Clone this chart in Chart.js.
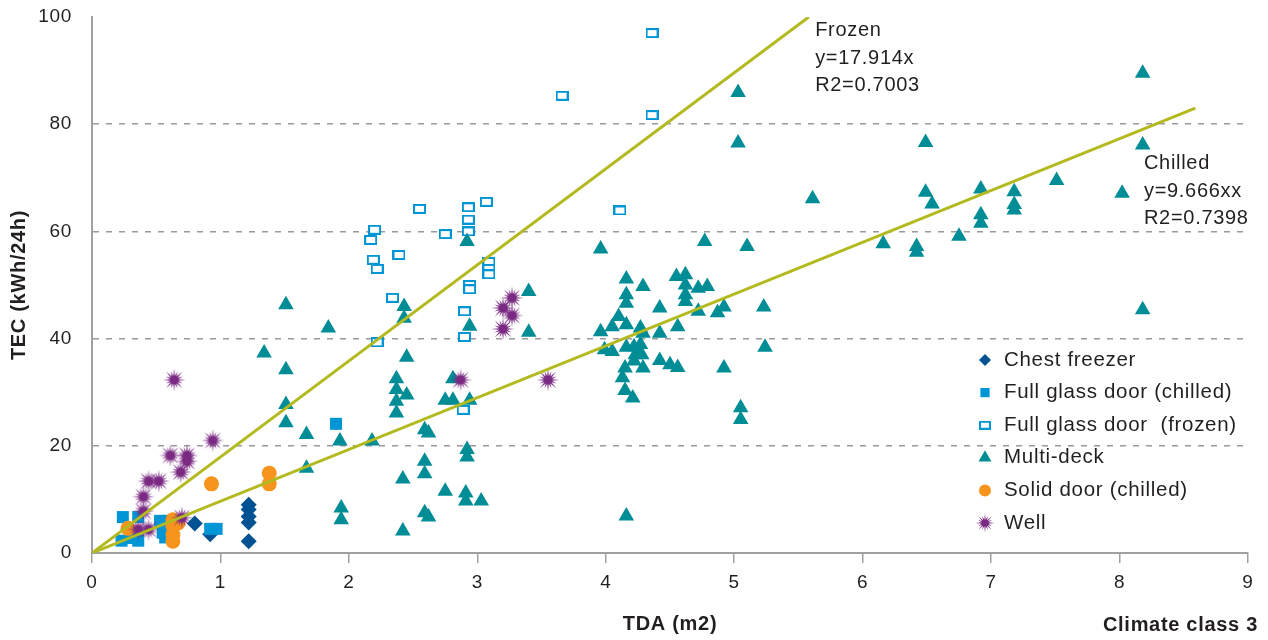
<!DOCTYPE html>
<html>
<head>
<meta charset="utf-8">
<script src="https://cdn.jsdelivr.net/npm/chart.js@4.4.0/dist/chart.umd.min.js"></script>
<style>
  html, body { margin: 0; padding: 0; background: #fff; }
</style>
</head>
<body>
<canvas id="chart" width="1268" height="640"></canvas>
<script>
// values: [TDA (m2), TEC (kWh/24h)]
const chestFreezer = [[0.80, 5.5], [0.92, 3.5], [1.22, 9.0], [1.22, 8.1], [1.22, 6.8], [1.22, 5.7], [1.22, 2.2]];

const glassChilled = [[0.24, 6.7], [0.36, 6.7], [0.23, 2.3], [0.36, 2.3], [0.30, 2.8], [0.53, 6.0], [0.59, 6.0],
  [0.55, 3.8], [0.57, 2.9], [0.62, 4.2], [0.92, 4.5], [0.97, 4.5], [1.90, 24.1]];

const glassFrozen = [[2.17, 58.4], [2.20, 60.3], [2.19, 54.7], [2.22, 53.0], [2.22, 39.3], [2.34, 47.6], [2.39, 55.6],
  [2.55, 64.2], [2.75, 59.5], [2.90, 45.1], [2.90, 40.3], [2.89, 26.7], [2.93, 64.5], [2.93, 62.2], [2.93, 60.0],
  [2.94, 50.0], [2.94, 49.2], [3.07, 65.5], [3.09, 54.3], [3.09, 53.0], [3.09, 52.0], [3.66, 85.3], [4.11, 63.9],
  [4.36, 97.0], [4.36, 81.7]];

const multiDeck = [[1.51, 46.3], [1.84, 42.0], [1.34, 37.3], [1.51, 34.2], [1.51, 27.7], [1.51, 24.3], [1.67, 22.1],
  [1.93, 20.9], [2.18, 20.9], [1.67, 15.8], [1.94, 8.4], [1.94, 6.2],
  [2.43, 46.0], [2.43, 43.8], [2.94, 42.3], [3.40, 48.8], [3.40, 41.2], [2.45, 36.5], [2.37, 32.5], [2.37, 30.5],
  [2.45, 29.5], [2.37, 28.3], [2.37, 26.1], [2.81, 32.5], [2.75, 28.5], [2.81, 28.5], [2.94, 28.5], [2.59, 23.0],
  [2.62, 22.4], [2.92, 19.3], [2.92, 17.9], [2.59, 17.1], [2.59, 14.8], [2.42, 13.8], [2.75, 11.5], [2.91, 11.2],
  [2.91, 9.7], [3.03, 9.7], [2.59, 7.5], [2.62, 6.7], [2.42, 4.1], [2.92, 58.1],
  [3.96, 56.7], [4.77, 58.1], [5.10, 57.2], [4.16, 51.1], [4.29, 49.7], [4.16, 48.2], [4.16, 46.6], [4.55, 51.6],
  [4.62, 51.9], [4.62, 50.0], [4.62, 48.2], [4.62, 46.9], [4.72, 49.4], [4.79, 49.7], [4.42, 45.7], [4.72, 45.1],
  [4.87, 44.8], [4.92, 45.9], [5.23, 45.9], [4.10, 44.1], [4.16, 42.6], [4.05, 42.2], [3.96, 41.3], [4.27, 42.0],
  [4.29, 41.0], [4.42, 41.0], [4.56, 42.2], [3.99, 37.9], [4.05, 37.6], [4.16, 38.4], [4.22, 38.5], [4.27, 38.9],
  [4.23, 37.0], [4.28, 37.0], [4.22, 35.8], [4.15, 34.5], [4.29, 34.5], [4.13, 32.7], [4.42, 35.9], [4.50, 35.1],
  [4.56, 34.6], [5.24, 38.4], [4.92, 34.5], [4.15, 30.3], [4.21, 28.9], [5.05, 27.1], [5.05, 24.9], [4.16, 6.9],
  [8.18, 89.5], [8.18, 76.1], [8.18, 45.4], [8.02, 67.1], [6.49, 76.6], [6.49, 67.3], [6.54, 65.1], [6.92, 67.9],
  [6.92, 63.1], [6.92, 61.5], [7.18, 67.4], [7.18, 65.0], [7.18, 64.0], [7.51, 69.5], [6.16, 57.7], [6.42, 57.2],
  [6.42, 56.1], [6.75, 59.1], [5.03, 85.9], [5.03, 76.5], [5.61, 66.1]];

const solidDoor = [[0.28, 4.6], [0.63, 6.2], [0.63, 5.0], [0.63, 3.4], [0.63, 2.2], [0.67, 5.6], [0.93, 12.9],
  [1.38, 14.9], [1.38, 12.9]];

const well = [[0.36, 4.4], [0.44, 4.4], [0.40, 7.8], [0.40, 10.5], [0.44, 13.4], [0.52, 13.4], [0.61, 18.2],
  [0.74, 18.2], [0.74, 17.1], [0.69, 15.1], [0.70, 6.6], [0.94, 21.0], [0.64, 32.3], [2.87, 32.3], [3.55, 32.3],
  [3.20, 41.8], [3.27, 44.3], [3.20, 45.7], [3.27, 47.6]];

// trend lines through the origin (end points)
const frozenFit = [[0, 0], [5.58, 100]];
const chilledFit = [[0, 0], [8.59, 83.0]];

const frozenNote = ['Frozen', 'y=17.914x', 'R2=0.7003'];
const chilledNote = ['Chilled', 'y=9.666xx', 'R2=0.7398'];

const xTicks = [0, 1, 2, 3, 4, 5, 6, 7, 8, 9];
const yTicks = [0, 20, 40, 60, 80, 100];

const FONT = '"Liberation Sans", Arial, sans-serif';
const INK = '#231f20';
const TREND = '#b3ba1f';
const SPACING = '0.7px';

Chart.defaults.font.family = FONT;
Chart.defaults.color = INK;

// little canvases for the markers chart.js has no shape for
function makeStar(size, color) {
  const c = document.createElement('canvas');
  c.width = c.height = size;
  const g = c.getContext('2d');
  const m = size / 2, R = size / 2 - 0.5, n = 16;
  g.beginPath();
  for (let i = 0; i < 2 * n; i++) {
    const a = Math.PI * i / n - Math.PI / 2;
    const rr = i % 2 ? R * 0.36 : (i % 4 ? R * 0.8 : R);
    g.lineTo(m + rr * Math.cos(a), m + rr * Math.sin(a));
  }
  g.closePath();
  g.fillStyle = color;
  g.fill();
  return c;
}

function makeBox(w, h, color) {
  const c = document.createElement('canvas');
  c.width = w; c.height = h;
  const g = c.getContext('2d');
  g.fillStyle = '#fff';
  g.fillRect(0, 0, w, h);
  g.strokeStyle = color;
  g.lineWidth = 2;
  g.strokeRect(1, 1, w - 2, h - 2);
  return c;
}

const starBig = makeStar(24, '#7a2a82');
const starSmall = makeStar(20, '#7a2a82');
const boxBig = makeBox(13, 10, '#0095d5');
const boxSmall = makeBox(12, 9, '#0095d5');

const toXY = pts => pts.map(([x, y]) => ({ x, y }));

const series = [
  { label: 'Chest freezer', data: chestFreezer, pointStyle: 'rectRot', pointRadius: 8, color: '#005293', legend: { style: 'rectRot', r: 6 } },
  { label: 'Full glass door (chilled)', data: glassChilled, pointStyle: 'rect', pointRadius: 8.5, color: '#0095d5', legend: { style: 'rect', r: 6.5 } },
  { label: 'Full glass door  (frozen)', data: glassFrozen, pointStyle: boxBig, pointRadius: 7, color: '#0095d5', legend: { style: boxSmall, r: 6 } },
  { label: 'Multi-deck', data: multiDeck, pointStyle: 'triangle', pointRadius: 9, color: '#008d96', legend: { style: 'triangle', r: 7.5 } },
  { label: 'Solid door (chilled)', data: solidDoor, pointStyle: 'circle', pointRadius: 7.5, color: '#f7941d', legend: { style: 'circle', r: 6 } },
  { label: 'Well', data: well, pointStyle: starBig, pointRadius: 10, color: '#7a2a82', legend: { style: starSmall, r: 9 } }
];

// the original font runs a bit wider than Liberation Sans
const spacingPlugin = {
  id: 'spacing',
  beforeUpdate(chart) { chart.ctx.letterSpacing = SPACING; },
  beforeDraw(chart) { chart.ctx.letterSpacing = SPACING; }
};

const notesPlugin = {
  id: 'notes',
  afterDraw(chart) {
    const { ctx, scales: { x, y } } = chart;
    ctx.save();
    ctx.letterSpacing = SPACING;
    ctx.fillStyle = INK;
    ctx.textBaseline = 'middle';
    ctx.font = '20px ' + FONT;
    ctx.textAlign = 'left';
    let px = x.getPixelForValue(5.63), py = y.getPixelForValue(97.4);
    frozenNote.forEach((t, i) => ctx.fillText(t, px, py + i * 27.5));
    px = x.getPixelForValue(8.19); py = y.getPixelForValue(72.6);
    chilledNote.forEach((t, i) => ctx.fillText(t, px, py + i * 27.5));

    // legend, bottom right inside the plot
    const lx = 985, ly = 360, step = 32.6;
    ctx.font = '20.5px ' + FONT;
    series.forEach((s, i) => {
      const yy = ly + i * step;
      ctx.fillStyle = s.color;
      ctx.strokeStyle = s.color;
      Chart.helpers.drawPoint(ctx, { pointStyle: s.legend.style, radius: s.legend.r, rotation: 0, borderWidth: 0 }, lx, yy);
      ctx.fillStyle = INK;
      ctx.fillText(s.label, lx + 19, yy);
    });

    ctx.font = 'bold 20px ' + FONT;
    ctx.textAlign = 'right';
    ctx.fillText('Climate class 3', 1258, 625);
    ctx.restore();
  }
};

const datasets = series.map((s, i) => ({
  type: 'scatter',
  label: s.label,
  data: toXY(s.data),
  pointStyle: s.pointStyle,
  pointRadius: s.pointRadius,
  pointHoverRadius: s.pointRadius,
  backgroundColor: s.color,
  borderColor: s.color,
  borderWidth: 0,
  order: 7 - i
}));

datasets.push(
  { type: 'line', label: 'Frozen', data: toXY(frozenFit), borderColor: TREND, borderWidth: 3, pointRadius: 0, fill: false, order: 0 },
  { type: 'line', label: 'Chilled', data: toXY(chilledFit), borderColor: TREND, borderWidth: 3, pointRadius: 0, fill: false, order: 0 }
);

new Chart(document.getElementById('chart'), {
  type: 'scatter',
  data: { datasets },
  options: {
    responsive: false,
    animation: false,
    layout: { padding: { top: 17, right: 20, left: 0, bottom: 0 } },
    plugins: { legend: { display: false }, tooltip: { enabled: false } },
    scales: {
      x: {
        type: 'linear', min: 0, max: 9,
        afterBuildTicks: s => { s.ticks = xTicks.map(v => ({ value: v })); },
        afterFit: s => { s.height = 87; },
        ticks: { padding: 8, color: INK, font: { size: 19 } },
        grid: { drawOnChartArea: false, drawTicks: true, tickLength: 10, color: '#a0a0a0', lineWidth: 1.5 },
        border: { color: '#a0a0a0', width: 2 },
        title: { display: true, text: 'TDA (m2)', color: INK, font: { size: 20, weight: 'bold' }, padding: { top: 0, bottom: 4 } }
      },
      y: {
        type: 'linear', min: 0, max: 100,
        afterBuildTicks: s => { s.ticks = yTicks.map(v => ({ value: v })); },
        afterFit: s => { s.width = 92; },
        ticks: { padding: 3, color: INK, font: { size: 19 } },
        grid: {
          drawTicks: true, tickLength: 17, tickColor: 'rgba(0,0,0,0)', lineWidth: 1.5,
          color: c => (c.tick && (c.tick.value === 0 || c.tick.value === 100)) ? 'rgba(0,0,0,0)' : '#9a9a9a'
        },
        border: { color: '#a0a0a0', width: 2, dash: [6, 7] },
        title: { display: true, text: 'TEC (kWh/24h)', color: INK, font: { size: 20, weight: 'bold' }, padding: { top: 7, bottom: 0 } }
      }
    }
  },
  plugins: [spacingPlugin, notesPlugin]
});
</script>
</body>
</html>
